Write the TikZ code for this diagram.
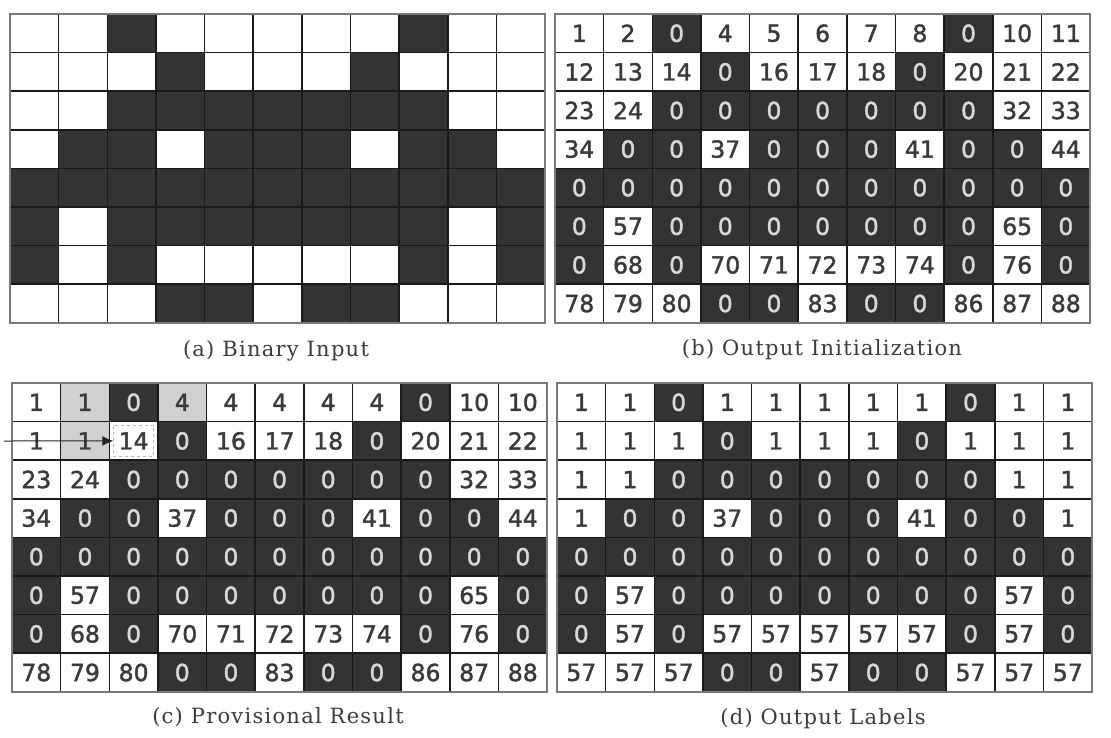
\documentclass[tikz,border=0pt]{standalone}
\usepackage{fontspec}
\usetikzlibrary{arrows.meta}
\newfontfamily\numfont[FakeBold=1.6]{DejaVu Sans}
\newfontfamily\capfont[LetterSpace=6]{DejaVu Serif}
\definecolor{cellgray}{HTML}{333333}
\definecolor{textdark}{HTML}{3A3A3A}
\definecolor{textlight}{HTML}{D8D8D8}
\definecolor{hlgray}{HTML}{D0D0D0}
\definecolor{framegray}{HTML}{7A7A7A}
\definecolor{capgray}{HTML}{3C3C3C}
\tikzset{
  cellbase/.style={draw=black!90, line width=1.6pt, minimum width=48.65pt,
    minimum height=38.6pt, inner sep=0pt, outer sep=0pt, anchor=north west,
    font=\numfont\fontsize{23.5}{23.5}\selectfont},
  oncell/.style={cellbase, fill=white, text=textdark},
  offcell/.style={cellbase, fill=cellgray, text=textlight},
  hlcell/.style={cellbase, fill=hlgray, text=textdark},
  paneltitle/.style={font=\capfont\fontsize{21}{24}\selectfont, text=capgray, inner sep=0pt},
  panelframe/.style={draw=framegray, line width=2pt},
  pointer/.style={draw=black!85, line width=1pt, -{Latex[length=11pt,width=10pt]}},
}
\def\dataA{{1,2,0,4,5,6,7,8,0,10,11},{12,13,14,0,16,17,18,0,20,21,22},{23,24,0,0,0,0,0,0,0,32,33},{34,0,0,37,0,0,0,41,0,0,44},{0,0,0,0,0,0,0,0,0,0,0},{0,57,0,0,0,0,0,0,0,65,0},{0,68,0,70,71,72,73,74,0,76,0},{78,79,80,0,0,83,0,0,86,87,88}}
\def\dataC{{1,1,0,4,4,4,4,4,0,10,10},{1,1,14,0,16,17,18,0,20,21,22},{23,24,0,0,0,0,0,0,0,32,33},{34,0,0,37,0,0,0,41,0,0,44},{0,0,0,0,0,0,0,0,0,0,0},{0,57,0,0,0,0,0,0,0,65,0},{0,68,0,70,71,72,73,74,0,76,0},{78,79,80,0,0,83,0,0,86,87,88}}
\def\dataD{{1,1,0,1,1,1,1,1,0,1,1},{1,1,1,0,1,1,1,0,1,1,1},{1,1,0,0,0,0,0,0,0,1,1},{1,0,0,37,0,0,0,41,0,0,1},{0,0,0,0,0,0,0,0,0,0,0},{0,57,0,0,0,0,0,0,0,57,0},{0,57,0,57,57,57,57,57,0,57,0},{57,57,57,0,0,57,0,0,57,57,57}}
\expandafter\def\csname hl-c-0-1\endcsname{}
\expandafter\def\csname hl-c-0-3\endcsname{}
\expandafter\def\csname hl-c-1-1\endcsname{}
\newcommand\drawpanel[5]{%
  \foreach \row [count=\r from 0] in #4 {
    \foreach \v [count=\c from 0] in \row {
      \ifnum\v=0 \def\cellsty{offcell}\else\def\cellsty{oncell}\fi
      \ifcsname hl-#1-\r-\c\endcsname\def\cellsty{hlcell}\fi
      \node[\cellsty] (#1-\r-\c) at ({#2+\c*48.65},{#3+\r*38.6}) {\ifnum#5=1 \v\fi};
    }
  }
  \draw[panelframe] (#1-0-0.north west) rectangle (#1-7-10.south east);
}
\begin{document}
\begin{tikzpicture}[x=1pt,y=-1pt]
  \fill[white] (0,0) rectangle (1111,737);
  \useasboundingbox (0,0) rectangle (1111,737);
  \drawpanel{a}{10}{14}{\dataA}{0}
  \drawpanel{b}{555}{14}{\dataA}{1}
  \drawpanel{c}{12}{383}{\dataC}{1}
  \drawpanel{d}{557}{383}{\dataD}{1}
  \draw[gray!55, dashed, line width=1pt] ([shift={(4,4)}]c-1-2.north west) rectangle ([shift={(-4,-4)}]c-1-2.south east);
  \coordinate (arrstart) at (4,441);
  \draw[pointer] (arrstart) -- ([xshift=4pt]c-1-2.west);
  \node[paneltitle] (capa) at (276,351) {(a) Binary Input};
  \node[paneltitle] (capb) at (822,350) {(b) Output Initialization};
  \node[paneltitle] (capc) at (278,717) {(c) Provisional Result};
  \node[paneltitle] (capd) at (823,719) {(d) Output Labels};
\end{tikzpicture}
\end{document}
